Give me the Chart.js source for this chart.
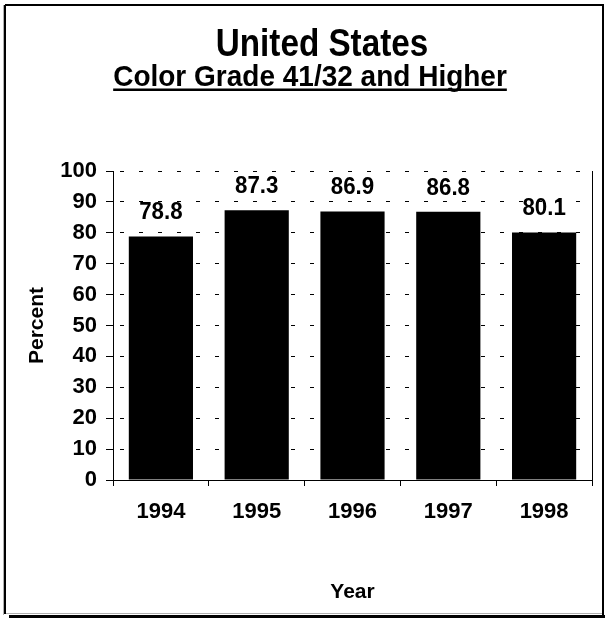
<!DOCTYPE html>
<html>
<head>
<meta charset="utf-8">
<title>United States - Color Grade 41/32 and Higher</title>
<script src="https://cdn.jsdelivr.net/npm/chart.js@4.4.1/dist/chart.umd.min.js"></script>
<style>
  html, body { margin: 0; padding: 0; background: #fff; }
  #wrap { width: 605px; height: 619px; position: relative; }
</style>
</head>
<body>
<div id="wrap"><canvas id="c" width="605" height="619"></canvas></div>
<script>
// Share of cotton graded 41/32 and higher, by crop year
const years = ['1994', '1995', '1996', '1997', '1998'];
const percents = [78.8, 87.3, 86.9, 86.8, 80.1];
const yTicks = [0, 10, 20, 30, 40, 50, 60, 70, 80, 90, 100];

const titleText = 'United States';
const subtitleText = 'Color Grade 41/32 and Higher';
const FONT = 'Arial, "Liberation Sans", Helvetica, sans-serif';

// Draws text squeezed horizontally and stretched vertically
function drawTall(ctx, text, x, y, sx, sy) {
  ctx.save();
  ctx.translate(x, y);
  ctx.scale(sx, sy);
  ctx.fillText(text, 0, 0);
  ctx.restore();
}

// Frame, headings, plot-area right edge and value labels
const decor = {
  id: 'decor',
  beforeDraw(chart) {
    const ctx = chart.ctx;
    ctx.save();
    ctx.fillStyle = '#fff';
    ctx.fillRect(0, 0, chart.width, chart.height);
    ctx.restore();
  },
  afterDatasetsDraw(chart) {
    const ctx = chart.ctx;
    const area = chart.chartArea;
    ctx.save();
    // solid right edge of plot area
    ctx.strokeStyle = '#000';
    ctx.lineWidth = 1;
    ctx.beginPath();
    ctx.moveTo(Math.round(area.right) + 0.5, area.top);
    ctx.lineTo(Math.round(area.right) + 0.5, area.bottom);
    ctx.stroke();

    // value labels above each bar
    const meta = chart.getDatasetMeta(0);
    ctx.fillStyle = '#000';
    ctx.font = 'bold 23px ' + FONT;
    ctx.textAlign = 'center';
    ctx.textBaseline = 'middle';
    meta.data.forEach((bar, i) => {
      drawTall(ctx, percents[i].toFixed(1), bar.x, bar.y - 24, 0.97, 1.08);
    });
    ctx.restore();
  },
  afterDraw(chart) {
    const ctx = chart.ctx;
    ctx.save();
    ctx.fillStyle = '#000';
    ctx.textAlign = 'center';
    ctx.textBaseline = 'alphabetic';
    ctx.font = 'bold 35px ' + FONT;
    drawTall(ctx, titleText, 322, 56, 0.95, 1.1);
    ctx.font = 'bold 28px ' + FONT;
    const sx = 1.0;
    drawTall(ctx, subtitleText, 310, 86, sx, 1.08);
    const w = ctx.measureText(subtitleText).width * sx;
    ctx.fillRect(310 - w / 2, 88.5, w, 2.5);

    // outer frame with a light shadow
    ctx.fillStyle = '#b0b0b0';
    ctx.fillRect(3, 5, 1, 610);
    ctx.fillRect(5, 613, 598, 1);
    ctx.fillStyle = '#000';
    ctx.fillRect(5, 4, 598, 2);
    ctx.fillRect(4, 5, 2, 609);
    ctx.fillRect(602, 4, 2, 612);
    ctx.fillRect(9, 615, 596, 3);
    ctx.restore();
  }
};

new Chart(document.getElementById('c'), {
  type: 'bar',
  data: {
    labels: years,
    datasets: [{
      data: percents,
      backgroundColor: '#000',
      borderWidth: 0,
      barPercentage: 0.67,
      categoryPercentage: 1.0
    }]
  },
  options: {
    responsive: false,
    animation: false,
    devicePixelRatio: 1,
    layout: { padding: { top: 171, right: 13, left: 0, bottom: 0 } },
    plugins: {
      legend: { display: false },
      tooltip: { enabled: false },
      title: { display: false }
    },
    scales: {
      x: {
        offset: true,
        grid: {
          offset: true,
          drawOnChartArea: false,
          drawTicks: true,
          tickLength: 6,
          tickColor: '#000',
          color: '#000'
        },
        border: { display: true, color: '#000', width: 1 },
        ticks: {
          color: '#000',
          font: { family: FONT, size: 22, weight: 'bold' },
          padding: 13,
          maxRotation: 0
        },
        title: {
          display: true,
          text: 'Year',
          color: '#000',
          font: { family: FONT, size: 21, weight: 'bold' },
          padding: { top: 0, bottom: 14 }
        },
        afterFit(scale) { scale.height = 139; }
      },
      y: {
        min: 0,
        max: 100,
        afterBuildTicks(scale) { scale.ticks = yTicks.map(v => ({ value: v })); },
        grid: {
          color: '#000',
          lineWidth: 1,
          drawTicks: true,
          tickLength: 7,
          tickColor: '#000',
          tickBorderDash: []
        },
        border: { display: true, color: '#000', width: 1, dash: [4, 15], dashOffset: -6 },
        ticks: {
          color: '#000',
          font: { family: FONT, size: 22, weight: 'bold' },
          padding: 9
        },
        title: {
          display: true,
          text: 'Percent',
          color: '#000',
          font: { family: FONT, size: 21, weight: 'bold' },
          padding: { top: 25, bottom: 0 }
        },
        afterFit(scale) { scale.width = 113; }
      }
    }
  },
  plugins: [decor]
});
</script>
</body>
</html>
